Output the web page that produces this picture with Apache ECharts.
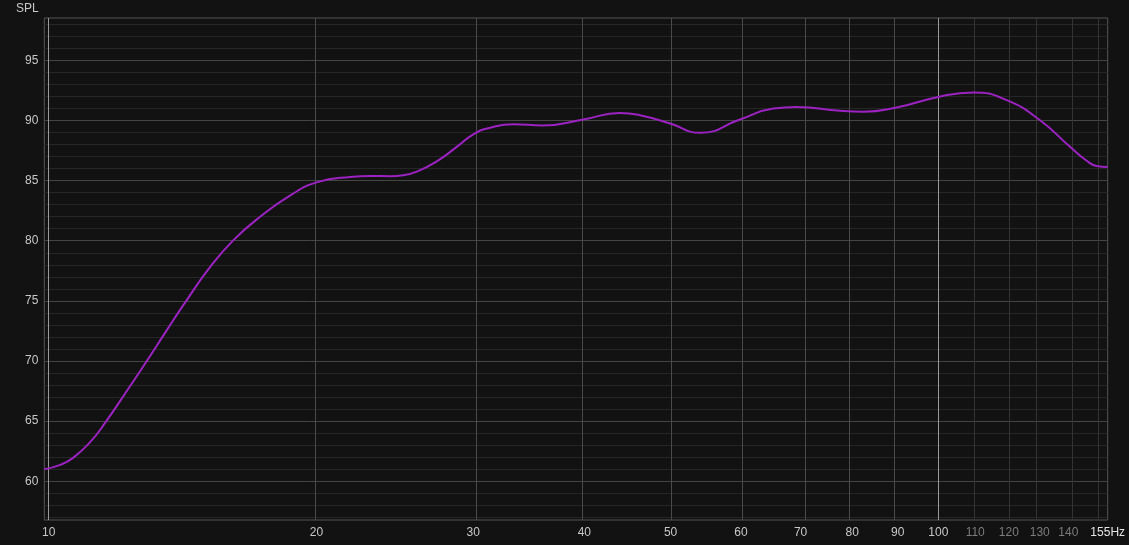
<!DOCTYPE html>
<html>
<head>
<meta charset="utf-8">
<script src="https://cdn.jsdelivr.net/npm/echarts@6/dist/echarts.min.js"></script>
<style>
html,body{margin:0;padding:0;background:#121212;}
#chart{width:1129px;height:545px;}
</style>
</head>
<body>
<div id="chart"></div>
<script>
// Frequency (Hz) and SPL (dB)
const freq = [9.886, 10.30, 10.66, 11.13, 11.57, 12.34, 12.89, 13.57, 14.23, 15.18, 16.13, 17.28, 18.67, 20.0, 21.81, 23.0, 24.19, 25.04, 25.93, 27.30, 28.75, 30.01, 31.34, 33.28, 35.9, 39.89, 43.87, 46.20, 49.93, 53.97, 59.84, 65.23, 69.30, 77.54, 82.34, 89.76, 99.97, 109.45, 119.35, 130.1, 140.6, 146.8, 150.6, 155];
const spl  = [61.0, 61.36, 61.97, 63.25, 64.85, 67.9, 70.0, 72.55, 74.85, 77.8, 80.05, 81.99, 83.75, 84.85, 85.3, 85.38, 85.37, 85.45, 85.75, 86.6, 87.8, 88.85, 89.4, 89.69, 89.58, 90.08, 90.63, 90.44, 89.75, 88.97, 90.08, 91.0, 91.13, 90.8, 90.72, 91.08, 91.96, 92.33, 91.69, 90.02, 87.81, 86.65, 86.22, 86.14];

// Axis ticks
const xTickLabels = [10, 20, 30, 40, 50, 60, 70, 80, 90, 100, 110, 120, 130, 140, 155];
const xMajorLines = [10, 100];
const xMidLines = [20, 30, 40, 50, 60, 70, 80, 90];
const xFineLines = [110, 120, 130, 140, 150];
const yTickLabels = [60, 65, 70, 75, 80, 85, 90, 95];
const yMinorLines = [57, 58, 59, 61, 62, 63, 64, 66, 67, 68, 69, 71, 72, 73, 74, 76, 77, 78, 79, 81, 82, 83, 84, 86, 87, 88, 89, 91, 92, 93, 94, 96, 97, 98];
const xRange = [9.886, 155];
const yRange = [56.78, 98.52];

const lg = v => Math.log10(v);

const gridLines = [];
yMinorLines.forEach(v => gridLines.push({yAxis: v, lineStyle: {color: '#262626'}}));
yTickLabels.forEach(v => gridLines.push({yAxis: v, lineStyle: {color: '#454545'}}));
xFineLines.forEach(v => gridLines.push({xAxis: lg(v), lineStyle: {color: '#333333'}}));
xMidLines.forEach(v => gridLines.push({xAxis: lg(v), lineStyle: {color: '#4a4a4a'}}));
xMajorLines.forEach(v => gridLines.push({xAxis: lg(v), lineStyle: {color: '#9a9a9a'}}));

const FONT = 'Liberation Sans, Arial, sans-serif';
const chart = echarts.init(document.getElementById('chart'), null, {renderer: 'canvas'});
chart.setOption({
  backgroundColor: '#121212',
  animation: false,
  title: {
    text: 'SPL', left: 16, top: 3, padding: 0,
    textStyle: {color: '#c8c8c8', fontSize: 12, fontWeight: 'normal', fontFamily: FONT}
  },
  grid: {left: 44.3, right: 21.3, top: 18, bottom: 25, show: true, borderColor: '#555555', borderWidth: 1, backgroundColor: 'transparent'},
  xAxis: {
    type: 'value', min: lg(xRange[0]), max: lg(xRange[1]),
    axisLine: {show: false}, axisTick: {show: false}, splitLine: {show: false},
    axisLabel: {
      customValues: xTickLabels.map(lg),
      margin: 7,
      fontSize: 12, color: '#c8c8c8', fontFamily: FONT,
      formatter: function (v) {
        const f = Math.round(Math.pow(10, v));
        if (f >= 155) return '{hz|' + f + 'Hz}';
        if (f > 100) return '{dim|' + f + '}';
        return '{n|' + f + '}';
      },
      rich: {
        n: {color: '#c8c8c8', fontSize: 12, fontFamily: FONT},
        dim: {color: '#7c7c7c', fontSize: 12, fontFamily: FONT},
        hz: {color: '#e6e6e6', fontSize: 12, fontFamily: FONT}
      }
    }
  },
  yAxis: {
    type: 'value', min: yRange[0], max: yRange[1],
    axisLine: {show: false}, axisTick: {show: false}, splitLine: {show: false},
    axisLabel: {
      customValues: yTickLabels,
      margin: 6, fontSize: 12, color: '#c8c8c8', fontFamily: FONT
    }
  },
  series: [
    {
      type: 'line', z: 1, silent: true,
      data: [[lg(xRange[0]), yRange[0]]],
      symbol: 'none', lineStyle: {opacity: 0},
      markLine: {
        silent: true, symbol: ['none', 'none'], animation: false,
        label: {show: false},
        lineStyle: {type: 'solid', width: 1},
        emphasis: {disabled: true},
        data: gridLines
      }
    },
    {
      type: 'line', z: 5,
      data: freq.map((f, i) => [lg(f), spl[i]]),
      smooth: 0.5, symbol: 'none',
      lineStyle: {color: '#9c22c2', width: 2}
    }
  ]
});
</script>
</body>
</html>
